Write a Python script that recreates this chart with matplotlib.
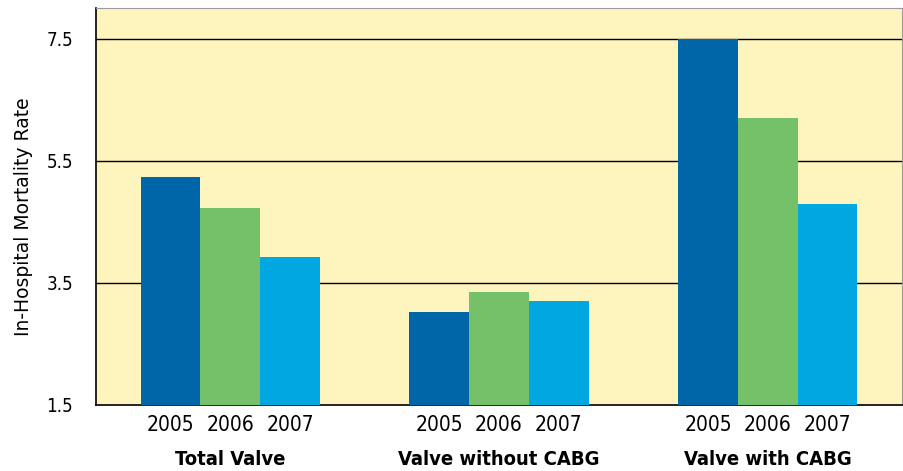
import matplotlib
matplotlib.use("Agg")
import matplotlib.pyplot as plt
import numpy as np

groups = ["Total Valve", "Valve without CABG", "Valve with CABG"]
years = ["2005", "2006", "2007"]
v2005 = [5.23, 3.03, 7.50]
v2006 = [4.72, 3.35, 6.21]
v2007 = [3.93, 3.21, 4.80]
yticks = [1.5, 3.5, 5.5, 7.5]

plt.rcParams['font.family'] = ['DejaVu Sans']
plt.rcParams['font.stretch'] = 'condensed'

colors = ["#0066A8", "#74C169", "#00A7E1"]
fig = plt.figure(figsize=(9.04, 4.71), dpi=100)
ax = fig.add_axes([96/904, 1-405/471, (902-96)/904, (405-8.3)/471])
ax.set_facecolor("#FEF5BE")

centers = np.array([0, 4.5, 9.0])
w = 1.0
xs, labels = [], []
for i, vals in enumerate([v2005, v2006, v2007]):
    pos = centers + (i - 1) * w
    ax.bar(pos, np.array(vals) - 1.5, bottom=1.5, width=w, color=colors[i], zorder=3)
    xs.extend(pos)
    labels.extend([years[i]] * 3)

ax.set_xlim(-2.25, 11.25)
ax.set_ylim(1.5, 8.0)
ax.set_yticks(yticks)
ax.set_yticklabels([str(t) for t in yticks], fontsize=13.5)
ax.set_xticks(xs)
ax.set_xticklabels(labels, fontsize=15)
ax.tick_params(axis='both', length=0)
ax.tick_params(axis='y', pad=16.5)
ax.tick_params(axis='x', pad=7)
for t in yticks[1:]:
    ax.axhline(t, color="black", lw=1.0, zorder=1)
ax.spines['left'].set_color('black')
ax.spines['bottom'].set_color('black')
ax.spines['left'].set_linewidth(1.2)
ax.spines['bottom'].set_linewidth(1.2)
ax.spines['top'].set_color('#9A9A9A')
ax.spines['right'].set_color('#9A9A9A')
ax.set_ylabel("In-Hospital Mortality Rate", fontsize=13.5, fontstretch='normal')
ax.yaxis.set_label_coords(-63/806, 0.474)

for c, g in zip(centers, groups):
    ax.text(c, -0.138, g, transform=ax.get_xaxis_transform(), ha='center', va='center',
            fontsize=14.5, fontweight='bold')

fig.savefig("out.png", dpi=100)
